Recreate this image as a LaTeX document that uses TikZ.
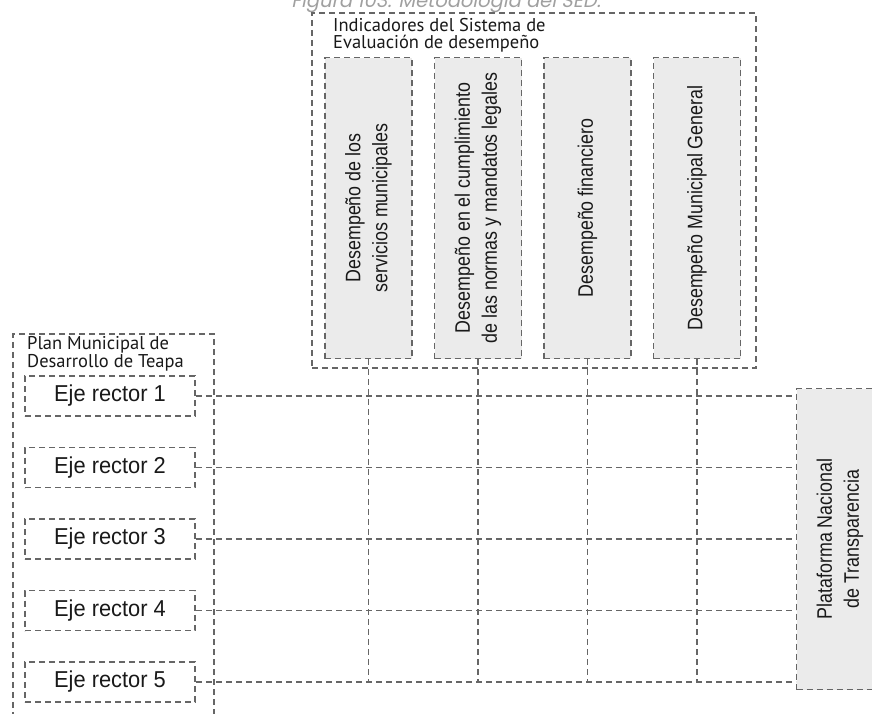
\documentclass[tikz,border=0pt]{standalone}
\usepackage{fontspec}
\usepackage{xcolor}
\usepackage{tikz}
\usetikzlibrary{positioning}

\setmainfont{Liberation Sans}
\newfontfamily\narrowfont[FakeStretch=0.85]{Liberation Sans}
\newfontfamily\ejefont[FakeStretch=0.95]{Liberation Sans}
\newfontfamily\titlefont{PT Sans}
\newfontfamily\capfont[FakeSlant=0.2]{Poppins}

\definecolor{linegray}{HTML}{666666}
\definecolor{boxgray}{HTML}{EBEBEB}
\definecolor{capgray}{HTML}{A0A0A0}

\begin{document}
\begin{tikzpicture}[
  x=1pt, y=-1pt,
  node distance=30pt and 21pt,
  dashline/.style={draw=linegray, line width=1.5pt, dash pattern=on 6pt off 4pt},
  frame/.style={dashline, anchor=north west, inner sep=0pt},
  title/.style={anchor=base west, inner sep=0pt, align=left, text=black!90,
    font=\titlefont\fontsize{18.5}{17.5}\selectfont},
  indbox/.style={dashline, fill=boxgray, minimum width=87pt, minimum height=301pt, inner sep=0pt},
  vtext/.style={rotate=90, align=center, inner sep=0pt, text=black!90,
    font=\narrowfont\fontsize{21}{27}\selectfont},
  ejebox/.style={dashline, minimum width=170pt, minimum height=40pt, inner sep=0pt,
    text=black!90, font=\ejefont\fontsize{23}{27}\selectfont}
]
\useasboundingbox (0,0) rectangle (872,713);
\clip (0,0) rectangle (872,713);

\node[anchor=base, inner sep=0pt, text=capgray, font=\capfont\fontsize{19.5}{19.5}\selectfont] (caption) at (446,7) {Figura 103. Metodología del SED.};

\node[frame, minimum width=444pt, minimum height=355pt] (sedframe) at (311,12) {};
\node[title] (sedtitle) at (333,48.5) {Indicadores del Sistema de\\Evaluación de desempeño};
\node[indbox] (ind1) at (368.5,208) {};
\node[indbox, right=of ind1] (ind2) {};
\node[indbox, right=of ind2] (ind3) {};
\node[indbox, right=of ind3] (ind4) {};
\node[vtext] (ind1txt) at (ind1) {Desempeño de los\\servicios municipales};
\node[vtext] (ind2txt) at (ind2) {Desempeño en el cumplimiento\\de las normas y mandatos legales};
\node[vtext] (ind3txt) at (ind3) {Desempeño financiero};
\node[vtext] (ind4txt) at (ind4) {Desempeño Municipal General};

\node[frame, minimum width=201pt, minimum height=420pt] (pmdframe) at (12,333) {};
\node[title] (pmdtitle) at (27,367) {Plan Municipal de\\Desarrollo de Teapa};
\node[ejebox] (eje1) at (110,396) {Eje rector 1};
\node[ejebox, below=of eje1] (eje2) {Eje rector 2};
\node[ejebox, below=of eje2] (eje3) {Eje rector 3};
\node[ejebox, below=of eje3] (eje4) {Eje rector 4};
\node[ejebox, below=of eje4] (eje5) {Eje rector 5};

\node[indbox] (plat) at (840,539) {};
\node[vtext] (plattxt) at (plat) {Plataforma Nacional\\de Transparencia};

\draw[dashline] (eje1.east) -- (eje1.east -| plat.west);
\draw[dashline] (eje2.east) -- (eje2.east -| plat.west);
\draw[dashline] (eje3.east) -- (eje3.east -| plat.west);
\draw[dashline] (eje4.east) -- (eje4.east -| plat.west);
\draw[dashline] (eje5.east) -- (eje5.east -| plat.west);
\draw[dashline] (ind1.south) -- (ind1.south |- eje5.east);
\draw[dashline] (ind2.south) -- (ind2.south |- eje5.east);
\draw[dashline] (ind3.south) -- (ind3.south |- eje5.east);
\draw[dashline] (ind4.south) -- (ind4.south |- eje5.east);
\end{tikzpicture}
\end{document}
